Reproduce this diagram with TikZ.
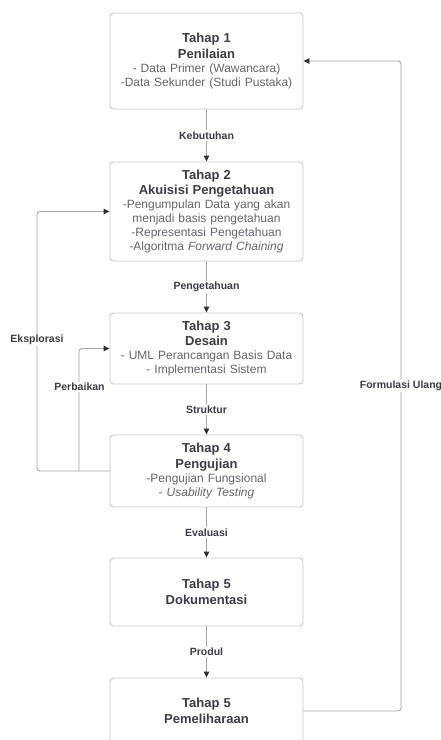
\documentclass[tikz,border=0pt]{standalone}
\usepackage{fontspec}
\setmainfont{Liberation Sans}
\usetikzlibrary{arrows.meta}
\definecolor{titlec}{HTML}{3A3D45}
\definecolor{bodyc}{HTML}{62666E}
\definecolor{boxc}{HTML}{C6C9CE}
\definecolor{linec}{HTML}{A2A7AD}
\definecolor{tipc}{HTML}{2E3138}
\newcommand{\ttlf}{\fontsize{13}{15.5}\selectfont\bfseries}
\newcommand{\bdyf}{\fontsize{12}{14}\selectfont}
\tikzset{
  stage/.style={draw=boxc, line width=0.9pt, rounded corners=3.5pt, minimum width=193pt,
    text width=190pt, align=center, inner sep=0pt, fill=white, text=bodyc, font=\bdyf},
  conn/.style={draw=linec, line width=0.9pt, rounded corners=3pt,
    -{Triangle[length=6pt,width=5.5pt,color=tipc]}},
  lbl/.style={fill=white, font=\fontsize{10.5}{12}\selectfont\bfseries, text=titlec, inner sep=1.5pt}
}
\begin{document}
\begin{tikzpicture}[x=1pt,y=-1pt]
\useasboundingbox (0,0) rectangle (441,740);
\fill[white] (0,0) rectangle (441,740);

\node[stage, minimum height=96pt] (b1) at (206.5,61)
 {{\ttlf\textcolor{titlec}{Tahap 1}\\\textcolor{titlec}{Penilaian}\par}
  - Data Primer (Wawancara)\\-Data Sekunder (Studi Pustaka)};
\node[stage, minimum height=99pt] (b2) at (206.5,211.5)
 {{\ttlf\textcolor{titlec}{Tahap 2}\\\textcolor{titlec}{Akuisisi Pengetahuan}\par}
  -Pengumpulan Data yang akan\\menjadi basis pengetahuan\\-Representasi Pengetahuan\\-Algoritma \textit{Forward Chaining}};
\node[stage, minimum height=71pt] (b3) at (206.5,348.5)
 {{\ttlf\textcolor{titlec}{Tahap 3}\\\textcolor{titlec}{Desain}\par}
  - UML Perancangan Basis Data\\- Implementasi Sistem};
\node[stage, minimum height=72pt] (b4) at (206.5,471)
 {{\ttlf\textcolor{titlec}{Tahap 4}\\\textcolor{titlec}{Pengujian}\par}
  -Pengujian Fungsional\\- \textit{Usability Testing}};
\node[stage, minimum height=68pt] (b5) at (206.5,592)
 {{\ttlf\textcolor{titlec}{Tahap 5}\\\textcolor{titlec}{Dokumentasi}\par}};
\node[stage, minimum height=66pt] (b6) at (206.5,711)
 {{\ttlf\textcolor{titlec}{Tahap 5}\\\textcolor{titlec}{Pemeliharaan}\par}};

% main flow
\draw[conn] (b1) -- node[lbl] (l1) {Kebutuhan} (b2);
\draw[conn] (b2) -- node[lbl] (l2) {Pengetahuan} (b3);
\draw[conn] (b3) -- node[lbl] (l3) {Struktur} (b4);
\draw[conn] (b4) -- node[lbl] (l4) {Evaluasi} (b5);
\draw[conn] (b5) -- node[lbl] (l5) {Produl} (b6);

% feedback loops
\coordinate (fr) at (401,711);
\draw[conn] (b6.east) -- (fr) |- (b1.east);
\node[lbl] (lf) at (401,386) {Formulasi Ulang};

\coordinate (ex) at (37,471);
\draw[conn] (b4.west) -- (ex) |- (b2.west);
\node[lbl] (le) at (37,340) {Eksplorasi};

\coordinate (pb) at (79,471);
\draw[conn] (pb) |- (b3.west);
\node[lbl] (lp) at (79.5,387) {Perbaikan};
\end{tikzpicture}
\end{document}
